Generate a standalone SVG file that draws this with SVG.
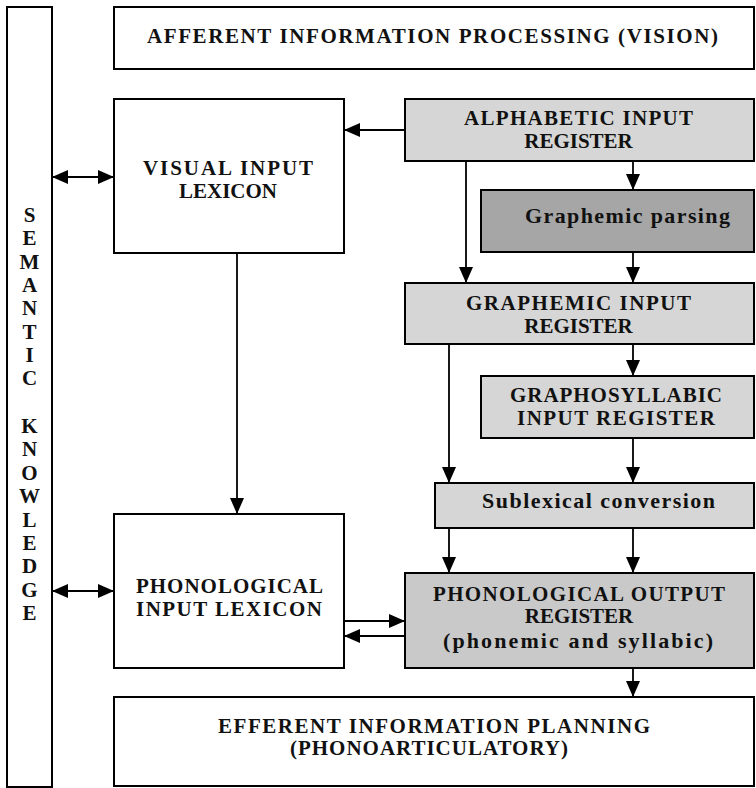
<svg xmlns="http://www.w3.org/2000/svg" width="756" height="788" viewBox="0 0 756 788">
<style>
.box{stroke:#000;stroke-width:2;fill:#fff}
.lt{fill:#d6d6d6}
.md{fill:#c9c9c9}
.dk{fill:#a6a6a6}
.t{font-family:"Liberation Serif","Times New Roman",serif;font-weight:bold;font-size:21px;fill:#111;text-anchor:middle}
.lc{font-size:22px}
.c{stroke:#000;stroke-width:1.8;fill:none;marker-end:url(#ah)}
.d{marker-start:url(#ah)}
</style>
<defs>
<marker id="ah" markerUnits="userSpaceOnUse" viewBox="0 0 16 14" refX="16" refY="7" markerWidth="16" markerHeight="14" orient="auto-start-reverse">
<path d="M0,0 L16,7 L0,14 z" fill="#000"/>
</marker>
</defs>
<rect width="756" height="788" fill="#fff"/>

<g id="semantic">
<rect class="box" x="7" y="7" width="45" height="780"/>
<g class="t">
<text x="29.5" y="222">S</text>
<text x="29.5" y="245.3">E</text>
<text x="29.5" y="268.6">M</text>
<text x="29.5" y="291.9">A</text>
<text x="29.5" y="315.2">N</text>
<text x="29.5" y="338.5">T</text>
<text x="29.5" y="361.8">I</text>
<text x="29.5" y="385">C</text>
<text x="29.5" y="433">K</text>
<text x="29.5" y="456.4">N</text>
<text x="29.5" y="479.8">O</text>
<text x="29.5" y="503.2">W</text>
<text x="29.5" y="526.6">L</text>
<text x="29.5" y="550">E</text>
<text x="29.5" y="573.4">D</text>
<text x="29.5" y="596.8">G</text>
<text x="29.5" y="620">E</text>
</g>
</g>

<g id="afferent">
<rect class="box" x="114" y="7" width="640" height="62"/>
<text class="t" x="432.5" y="43" textLength="571" lengthAdjust="spacing">AFFERENT  INFORMATION  PROCESSING  (VISION)</text>
</g>

<g id="visual-lexicon">
<rect class="box" x="114" y="99" width="230" height="154"/>
<text class="t" x="228" y="175" textLength="170" lengthAdjust="spacing">VISUAL  INPUT</text>
<text class="t" x="228" y="198">LEXICON</text>
</g>

<g id="alphabetic">
<rect class="box lt" x="405" y="99" width="349" height="62"/>
<text class="t" x="578.5" y="125" textLength="229" lengthAdjust="spacing">ALPHABETIC  INPUT</text>
<text class="t" x="578.5" y="148">REGISTER</text>
</g>

<g id="graphemic-parsing">
<rect class="box dk" x="481" y="190" width="273" height="62"/>
<text class="t lc" x="627.5" y="223" textLength="205" lengthAdjust="spacing">Graphemic parsing</text>
</g>

<g id="graphemic-input">
<rect class="box lt" x="405" y="283" width="349" height="61"/>
<text class="t" x="578.5" y="310" textLength="225" lengthAdjust="spacing">GRAPHEMIC  INPUT</text>
<text class="t" x="578.5" y="333">REGISTER</text>
</g>

<g id="graphosyllabic">
<rect class="box lt" x="481" y="376" width="273" height="62"/>
<text class="t" x="616" y="402" textLength="212" lengthAdjust="spacing">GRAPHOSYLLABIC</text>
<text class="t" x="616" y="425" textLength="198" lengthAdjust="spacing">INPUT  REGISTER</text>
</g>

<g id="sublexical">
<rect class="box lt" x="435" y="483" width="319" height="45"/>
<text class="t lc" x="598.5" y="508" textLength="233" lengthAdjust="spacing">Sublexical conversion</text>
</g>

<g id="phonological-output">
<rect class="box md" x="405" y="573" width="349" height="95"/>
<text class="t" x="579" y="601" textLength="292" lengthAdjust="spacing">PHONOLOGICAL  OUTPUT</text>
<text class="t" x="579" y="623">REGISTER</text>
<text class="t lc" x="578" y="648" textLength="270" lengthAdjust="spacing">(phonemic and syllabic)</text>
</g>

<g id="phonological-input">
<rect class="box" x="114" y="514" width="230" height="154"/>
<text class="t" x="229.5" y="593" textLength="187" lengthAdjust="spacing">PHONOLOGICAL</text>
<text class="t" x="229" y="616" textLength="186" lengthAdjust="spacing">INPUT  LEXICON</text>
</g>

<g id="efferent">
<rect class="box" x="114" y="697" width="640" height="89"/>
<text class="t" x="434" y="733" textLength="432" lengthAdjust="spacing">EFFERENT  INFORMATION  PLANNING</text>
<text class="t" x="429" y="755" textLength="278" lengthAdjust="spacing">(PHONOARTICULATORY)</text>
</g>

<g id="connectors">
<path class="c" d="M405,130 H344"/>
<path class="c" d="M633,161 V190"/>
<path class="c" d="M466,161 V283"/>
<path class="c" d="M633,252 V283"/>
<path class="c" d="M633,344 V376"/>
<path class="c" d="M449,344 V483"/>
<path class="c" d="M633,438 V483"/>
<path class="c" d="M449,528 V573"/>
<path class="c" d="M633,528 V573"/>
<path class="c" d="M633,668 V697"/>
<path class="c" d="M237,253 V514"/>
<path class="c" d="M344,621 H405"/>
<path class="c" d="M405,636 H344"/>
<path class="c d" d="M52,177 H114"/>
<path class="c d" d="M52,591 H114"/>
</g>
</svg>
